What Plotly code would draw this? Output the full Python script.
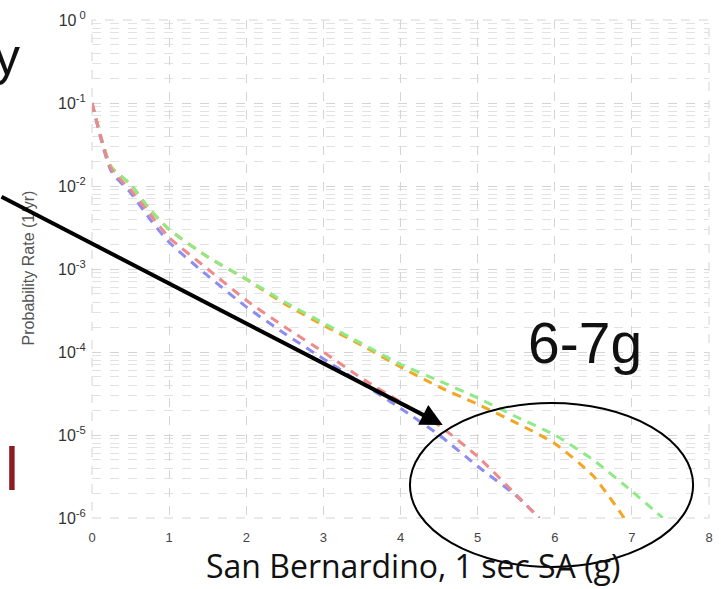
import plotly.graph_objects as go

# Hazard curves: spectral acceleration (g) vs. annual exceedance rate
sa_red = [0.0, 0.25, 0.5, 0.75, 1.0, 1.5, 2.0, 2.5, 3.0, 3.5, 4.0, 4.5, 5.0, 5.5, 5.8]
rate_red = [1e-1, 1.6e-2, 9.0e-3, 4.6e-3, 2.4e-3, 1.0e-3, 4.2e-4, 2.0e-4, 1.0e-4,
            4.8e-5, 2.5e-5, 1.3e-5, 5.5e-6, 1.9e-6, 1.0e-6]

sa_blue = [0.0, 0.25, 0.5, 0.75, 1.0, 1.5, 2.0, 2.5, 3.0, 3.5, 4.0, 4.5, 5.0, 5.5, 5.8]
rate_blue = [1e-1, 1.5e-2, 8.3e-3, 4.0e-3, 2.1e-3, 8.3e-4, 3.5e-4, 1.66e-4, 8.3e-5,
             4.2e-5, 2.1e-5, 1.0e-5, 4.2e-6, 1.85e-6, 1.0e-6]

sa_green = [0.0, 0.25, 0.5, 0.75, 1.0, 1.5, 2.0, 2.5, 3.0, 3.5, 4.0, 4.5, 5.0, 5.5, 6.0,
            6.5, 7.0, 7.4]
rate_green = [1e-1, 1.7e-2, 1.05e-2, 5.2e-3, 3.0e-3, 1.4e-3, 7.6e-4, 4.0e-4, 2.24e-4,
              1.26e-4, 7.1e-5, 4.5e-5, 2.8e-5, 1.66e-5, 1.0e-5, 5.0e-6, 2.1e-6, 1.0e-6]

sa_orange = [0.0, 0.25, 0.5, 0.75, 1.0, 1.5, 2.0, 2.5, 3.0, 3.5, 4.0, 4.5, 5.0, 5.5, 6.0,
             6.5, 6.9]
rate_orange = [1e-1, 1.7e-2, 1.05e-2, 5.2e-3, 3.0e-3, 1.4e-3, 7.5e-4, 3.8e-4, 2.1e-4,
               1.2e-4, 6.6e-5, 3.8e-5, 2.35e-5, 1.4e-5, 7.9e-6, 3.2e-6, 1.0e-6]

x_ticks = [0, 1, 2, 3, 4, 5, 6, 7, 8]
y_ticks = [1e-6, 1e-5, 1e-4, 1e-3, 1e-2, 1e-1, 1e0]
y_tick_text = ["10<sup>-6</sup>", "10<sup>-5</sup>", "10<sup>-4</sup>", "10<sup>-3</sup>",
               "10<sup>-2</sup>", "10<sup>-1</sup>", "10<sup> 0</sup>"]

series = [
    ("orange", sa_orange, rate_orange, "#F4A623"),
    ("green", sa_green, rate_green, "#8EEA86"),
    ("blue", sa_blue, rate_blue, "#8C8CF2"),
    ("red", sa_red, rate_red, "#EE8A8A"),
]

fig = go.Figure()
for name, xs, ys, color in series:
    fig.add_trace(go.Scatter(
        x=xs, y=ys, name=name, mode="lines",
        line=dict(color=color, width=3, dash="9px,7px", shape="spline", smoothing=0.6),
        showlegend=False,
    ))

grid = "#d4d4d4"
fig.update_layout(
    width=721, height=589,
    margin=dict(l=92, r=8, t=20, b=71),
    paper_bgcolor="white", plot_bgcolor="white",
    font=dict(family="Liberation Sans, Arial, sans-serif", color="#333"),
    xaxis=dict(
        range=[0, 8], tickvals=x_ticks, ticks="outside", ticklen=7, tickcolor="white",
        showline=False, zeroline=False,
        showgrid=True, gridcolor=grid, griddash="dash", gridwidth=1,
        tickfont=dict(size=13, color="#444"),
        minor=dict(showgrid=False),
    ),
    yaxis=dict(
        type="log", range=[-6, 0], tickvals=y_ticks, ticktext=y_tick_text,
        ticks="outside", ticklen=2, tickcolor="white",
        showline=False, zeroline=False,
        showgrid=True, gridcolor=grid, griddash="dash", gridwidth=1,
        tickfont=dict(size=16, color="#333"),
        minor=dict(dtick="D1", showgrid=True, gridcolor="#e2e2e2", griddash="dash",
                   gridwidth=1),
    ),
)

# Plot-area frame drawn as dashed grid lines
fig.add_shape(type="rect", xref="paper", yref="paper", x0=0, y0=0, x1=1, y1=1,
              line=dict(color=grid, width=1, dash="dash"), layer="below")


def px_x(p):
    return (p - 92) / 621


def px_y(p):
    return (518 - p) / 498


# Axis titles
fig.add_annotation(text="Probability Rate (1/yr)", xref="paper", yref="paper",
                   x=px_x(28), y=px_y(268), xanchor="center", yanchor="middle",
                   textangle=-90, showarrow=False, font=dict(size=16, color="#555"))
fig.add_annotation(text="San Bernardino, 1 sec SA (g)", xref="paper", yref="paper",
                   x=px_x(415), y=px_y(565), xanchor="center", yanchor="middle",
                   showarrow=False,
                   font=dict(family="Open Sans, sans-serif", size=32, color="#111"))

# Slide text around the chart
fig.add_annotation(text="y", xref="paper", yref="paper", x=px_x(22), y=px_y(56),
                   xanchor="right", yanchor="middle", showarrow=False,
                   font=dict(size=52, color="#111"))
fig.add_annotation(text="e", xref="paper", yref="paper", x=px_x(2), y=px_y(468),
                   xanchor="right", yanchor="middle", showarrow=False,
                   font=dict(size=62, color="#8E1B22"))
fig.add_annotation(text="l", xref="paper", yref="paper", x=px_x(21), y=px_y(468),
                   xanchor="right", yanchor="middle", showarrow=False,
                   font=dict(size=62, color="#8E1B22"))
fig.add_annotation(text="6-7g", xref="paper", yref="paper", x=px_x(588), y=px_y(343),
                   xanchor="center", yanchor="middle", showarrow=False,
                   font=dict(size=57, color="#111"))

# Ellipse marking the 6-7g region
fig.add_shape(type="circle", xref="paper", yref="paper",
              x0=px_x(412), x1=px_x(697), y0=px_y(567), y1=px_y(403),
              line=dict(color="black", width=2))

# Arrow pointing into the ellipse
fig.add_annotation(text="", xref="paper", yref="paper",
                   x=px_x(445), y=px_y(425),
                   axref="pixel", ayref="pixel", ax=-445, ay=-229,
                   showarrow=True, arrowhead=2, arrowsize=1.1, arrowwidth=4,
                   arrowcolor="black")

fig.write_html("out.html")
